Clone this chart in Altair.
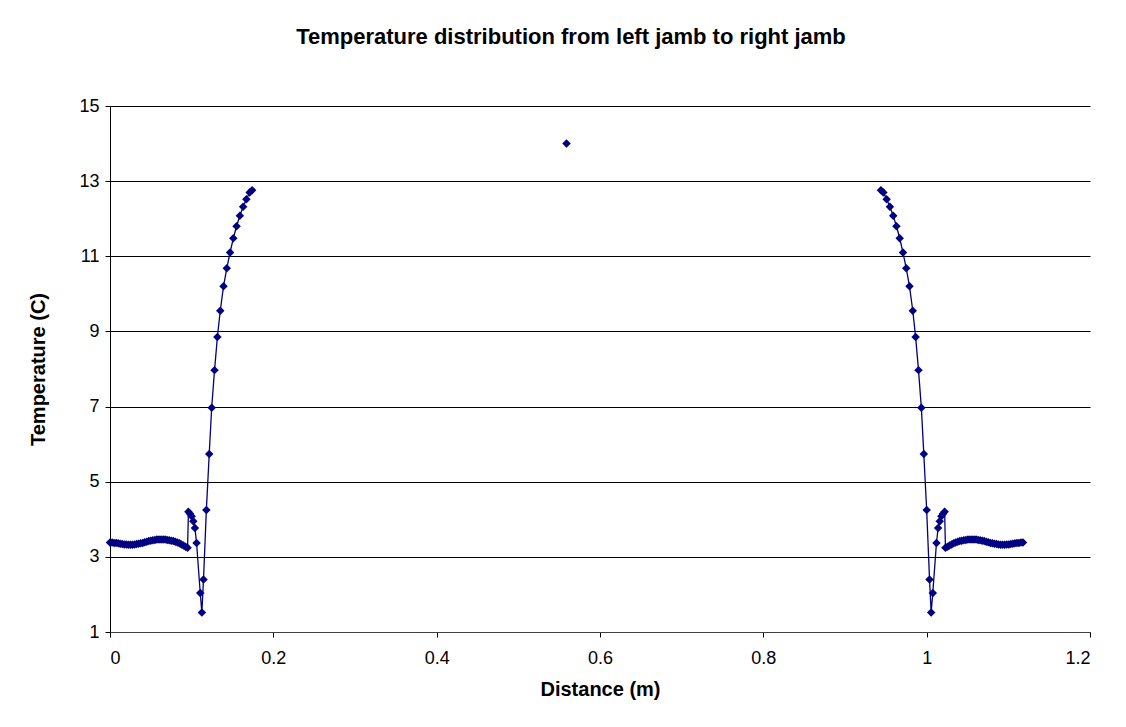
import altair as alt
import pandas as pd

# Left jamb profile (distance m, temperature C)
left_x = [0.0000, 0.0025, 0.0050, 0.0075, 0.0100, 0.0125, 0.0150, 0.0175, 0.0200, 0.0225,
          0.0250, 0.0275, 0.0300, 0.0325, 0.0350, 0.0375, 0.0400, 0.0425, 0.0450, 0.0475,
          0.0500, 0.0525, 0.0550, 0.0575, 0.0600, 0.0625, 0.0650, 0.0675, 0.0700, 0.0725,
          0.0750, 0.0775, 0.0800, 0.0825, 0.0850, 0.0875, 0.0900, 0.0925, 0.0950,
          0.096, 0.098, 0.100, 0.102, 0.104, 0.106,
          0.1105, 0.1125, 0.1145, 0.118,
          0.1215, 0.1245, 0.128, 0.1315, 0.135, 0.139, 0.143, 0.147, 0.151,
          0.155, 0.159, 0.163, 0.167, 0.171, 0.174]
left_y = [3.38, 3.38, 3.37, 3.37, 3.36, 3.35, 3.34, 3.33, 3.33, 3.32,
          3.32, 3.32, 3.33, 3.34, 3.35, 3.36, 3.37, 3.39, 3.40, 3.42,
          3.43, 3.44, 3.45, 3.46, 3.46, 3.46, 3.46, 3.46, 3.45, 3.44,
          3.43, 3.42, 3.40, 3.38, 3.36, 3.33, 3.30, 3.27, 3.24,
          4.20, 4.15, 4.08, 3.95, 3.77, 3.37,
          2.04, 1.52, 2.40, 4.25,
          5.74, 6.97, 7.97, 8.85, 9.55, 10.20, 10.68, 11.10, 11.48,
          11.80, 12.08, 12.32, 12.52, 12.70, 12.76]

# Centre point
mid_x = [0.559]
mid_y = [14.0]

# Right jamb profile
right_x = [0.944, 0.947, 0.951, 0.955, 0.959, 0.963, 0.967, 0.971, 0.975,
           0.979, 0.983, 0.9865, 0.990, 0.9935, 0.9965,
           1.000, 1.0035, 1.0055, 1.0075,
           1.012, 1.014, 1.016, 1.018, 1.020, 1.022,
           1.0230, 1.0255, 1.0280, 1.0305, 1.0330, 1.0355, 1.0380, 1.0405, 1.0430, 1.0455,
           1.0480, 1.0505, 1.0530, 1.0555, 1.0580, 1.0605, 1.0630, 1.0655, 1.0680, 1.0705,
           1.0730, 1.0755, 1.0780, 1.0805, 1.0830, 1.0855, 1.0880, 1.0905, 1.0930, 1.0955,
           1.0980, 1.1005, 1.1030, 1.1055, 1.1080, 1.1105, 1.1130, 1.1155, 1.1180]
right_y = [12.76, 12.70, 12.52, 12.32, 12.08, 11.80, 11.48, 11.10, 10.68,
           10.20, 9.55, 8.85, 7.97, 6.97, 5.74,
           4.25, 2.40, 1.52, 2.04,
           3.37, 3.77, 3.95, 4.08, 4.15, 4.20,
           3.24, 3.27, 3.30, 3.33, 3.36, 3.38, 3.40, 3.42, 3.43, 3.44,
           3.45, 3.46, 3.46, 3.46, 3.46, 3.46, 3.45, 3.44, 3.43, 3.42,
           3.40, 3.39, 3.37, 3.36, 3.35, 3.34, 3.33, 3.32, 3.32, 3.32,
           3.33, 3.33, 3.34, 3.35, 3.36, 3.37, 3.37, 3.38, 3.38]

x_ticks = [0, 0.2, 0.4, 0.6, 0.8, 1.0, 1.2]
y_ticks = [1, 3, 5, 7, 9, 11, 13, 15]

rows = []
for seg, xs, ys in (("left", left_x, left_y), ("mid", mid_x, mid_y), ("right", right_x, right_y)):
    for i, (a, b) in enumerate(zip(xs, ys)):
        rows.append({"x": a, "y": b, "seg": seg, "idx": i})
df = pd.DataFrame(rows)

NAVY = "#000080"
FONT = "Liberation Sans"

common_axis = dict(labelFont=FONT, titleFont=FONT, labelFontSize=18, titleFontSize=20,
                   titleFontWeight="bold", labelColor="black", titleColor="black",
                   tickColor="black", tickWidth=1, domainWidth=1, tickSize=5)

x_enc = alt.X("x:Q", scale=alt.Scale(domain=[0, 1.2], nice=False, zero=False),
              axis=alt.Axis(values=x_ticks, format="~g", title="Distance (m)", grid=False,
                            labelPadding=12, titlePadding=12, domainColor="#404040",
                            **common_axis))
y_enc = alt.Y("y:Q", scale=alt.Scale(domain=[1, 15], nice=False, zero=False),
              axis=alt.Axis(values=y_ticks, title="Temperature (C)", grid=True,
                            gridColor="#000000", gridOpacity=1, gridWidth=1,
                            domainColor="black", labelPadding=6, titlePadding=30,
                            **common_axis))

base = alt.Chart(df)
lines = base.mark_line(color=NAVY, strokeWidth=1.3).encode(
    x=x_enc, y=y_enc, detail="seg:N", order="idx:Q")
points = base.mark_point(shape="diamond", filled=True, color=NAVY, size=72, opacity=1).encode(
    x="x:Q", y="y:Q")

chart = (lines + points).properties(
    width=980, height=526,
    background="white",
    title=alt.TitleParams("Temperature distribution from left jamb to right jamb",
                          font=FONT, fontSize=22, fontWeight="bold", color="black",
                          anchor="middle", offset=48, dx=-29),
    padding={"left": 102, "top": 98, "right": 28, "bottom": 80},
    autosize=alt.AutoSizeParams(type="none"),
).configure_view(stroke=None)

chart.save("out.html", embed_options={"renderer": "svg", "actions": False})
